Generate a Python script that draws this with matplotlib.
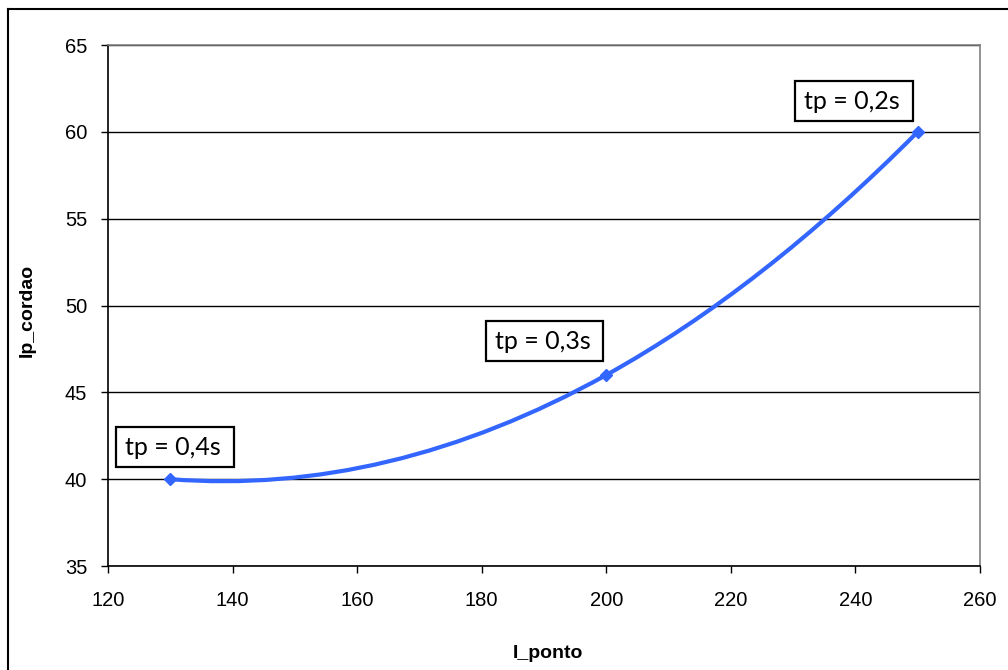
import numpy as np
import matplotlib
matplotlib.use("Agg")
import matplotlib.pyplot as plt
from matplotlib.path import Path
from matplotlib.patches import PathPatch, Rectangle
from matplotlib.lines import Line2D

# Data
i_ponto = [130, 200, 250]
ip_cordao = [40, 46, 60]
point_labels = ["tp = 0,4s", "tp = 0,3s", "tp = 0,2s"]
x_ticks = [120, 140, 160, 180, 200, 220, 240, 260]
y_ticks = [35, 40, 45, 50, 55, 60, 65]

LINE_BLUE = "#3366FF"
W, H = 1008, 670

fig = plt.figure(figsize=(W / 100, H / 100), dpi=100)
fig.patch.set_facecolor("white")

# Plot area in pixels
L, R, T, B = 108, 980, 45, 566
ax = fig.add_axes([L / W, 1 - B / H, (R - L) / W, (B - T) / H])
ax.set_xlim(120, 260)
ax.set_ylim(35, 65)
ax.set_xticks(x_ticks)
ax.set_yticks(y_ticks)

tick_font = dict(family="Liberation Sans", size=14.5)
ax.set_xticklabels([str(v) for v in x_ticks], **tick_font)
ax.set_yticklabels([str(v) for v in y_ticks], **tick_font)
ax.tick_params(axis="both", direction="out", length=5, width=1, color="black")
ax.tick_params(axis="y", pad=10)
ax.tick_params(axis="x", pad=13)

for side in ("left", "bottom"):
    ax.spines[side].set_color("black")
    ax.spines[side].set_linewidth(1.2)
for side in ("top", "right"):
    ax.spines[side].set_color("#808080")
    ax.spines[side].set_linewidth(1.2)

ax.yaxis.grid(True, color="black", linewidth=1.0)
ax.set_axisbelow(True)

# Smoothed connector through the points (cubic Bezier segments)
xs = np.array(i_ponto, dtype=float)
ys = np.array(ip_cordao, dtype=float)
coef = np.polyfit(xs, ys, 2)
slope = np.polyval(np.polyder(coef), xs)
verts = [(xs[0], ys[0])]
codes = [Path.MOVETO]
for k in range(len(xs) - 1):
    dx = (xs[k + 1] - xs[k]) / 3.0
    verts += [(xs[k] + dx, ys[k] + dx * slope[k]),
              (xs[k + 1] - dx, ys[k + 1] - dx * slope[k + 1]),
              (xs[k + 1], ys[k + 1])]
    codes += [Path.CURVE4] * 3
ax.add_patch(PathPatch(Path(verts, codes), facecolor="none",
                       edgecolor=LINE_BLUE, linewidth=3.0, zorder=3,
                       capstyle="round", joinstyle="round"))
ax.plot(xs, ys, linestyle="none", marker="D", markersize=6,
        color=LINE_BLUE, zorder=4)

# Labels in boxes: (left, right, bottom, top) in data units
boxes = [(121.3, 140.2, 40.70, 43.01),
         (180.7, 199.5, 46.81, 49.11),
         (230.3, 249.2, 60.63, 62.94)]
for (x0, x1, y0, y1), txt in zip(boxes, point_labels):
    ax.add_patch(Rectangle((x0, y0), x1 - x0, y1 - y0, facecolor="white",
                           edgecolor="black", linewidth=1.6, zorder=5,
                           clip_on=False))
    ax.text(x0 + 1.5, (y0 + y1) / 2 - 0.05, txt, family="Lato", fontsize=18,
            ha="left", va="center", zorder=6)

# Axis titles
fig.text((L + R) / 2 / W + 0.004, 1 - 654 / H, "I_ponto", family="Liberation Sans",
         fontsize=14, fontweight="bold", ha="center", va="center")
fig.text(27 / W, 1 - 310 / H, "Ip_cordao", family="Liberation Sans",
         fontsize=14, fontweight="bold", ha="center", va="center", rotation=90)

# Chart frame
fig.add_artist(Line2D([8 / W, 8 / W], [1 - 9 / H, 0], color="black",
                      linewidth=1.5, transform=fig.transFigure))
fig.add_artist(Line2D([8 / W, 1], [1 - 9 / H, 1 - 9 / H], color="black",
                      linewidth=1.5, transform=fig.transFigure))

fig.savefig("out.png", dpi=100)
